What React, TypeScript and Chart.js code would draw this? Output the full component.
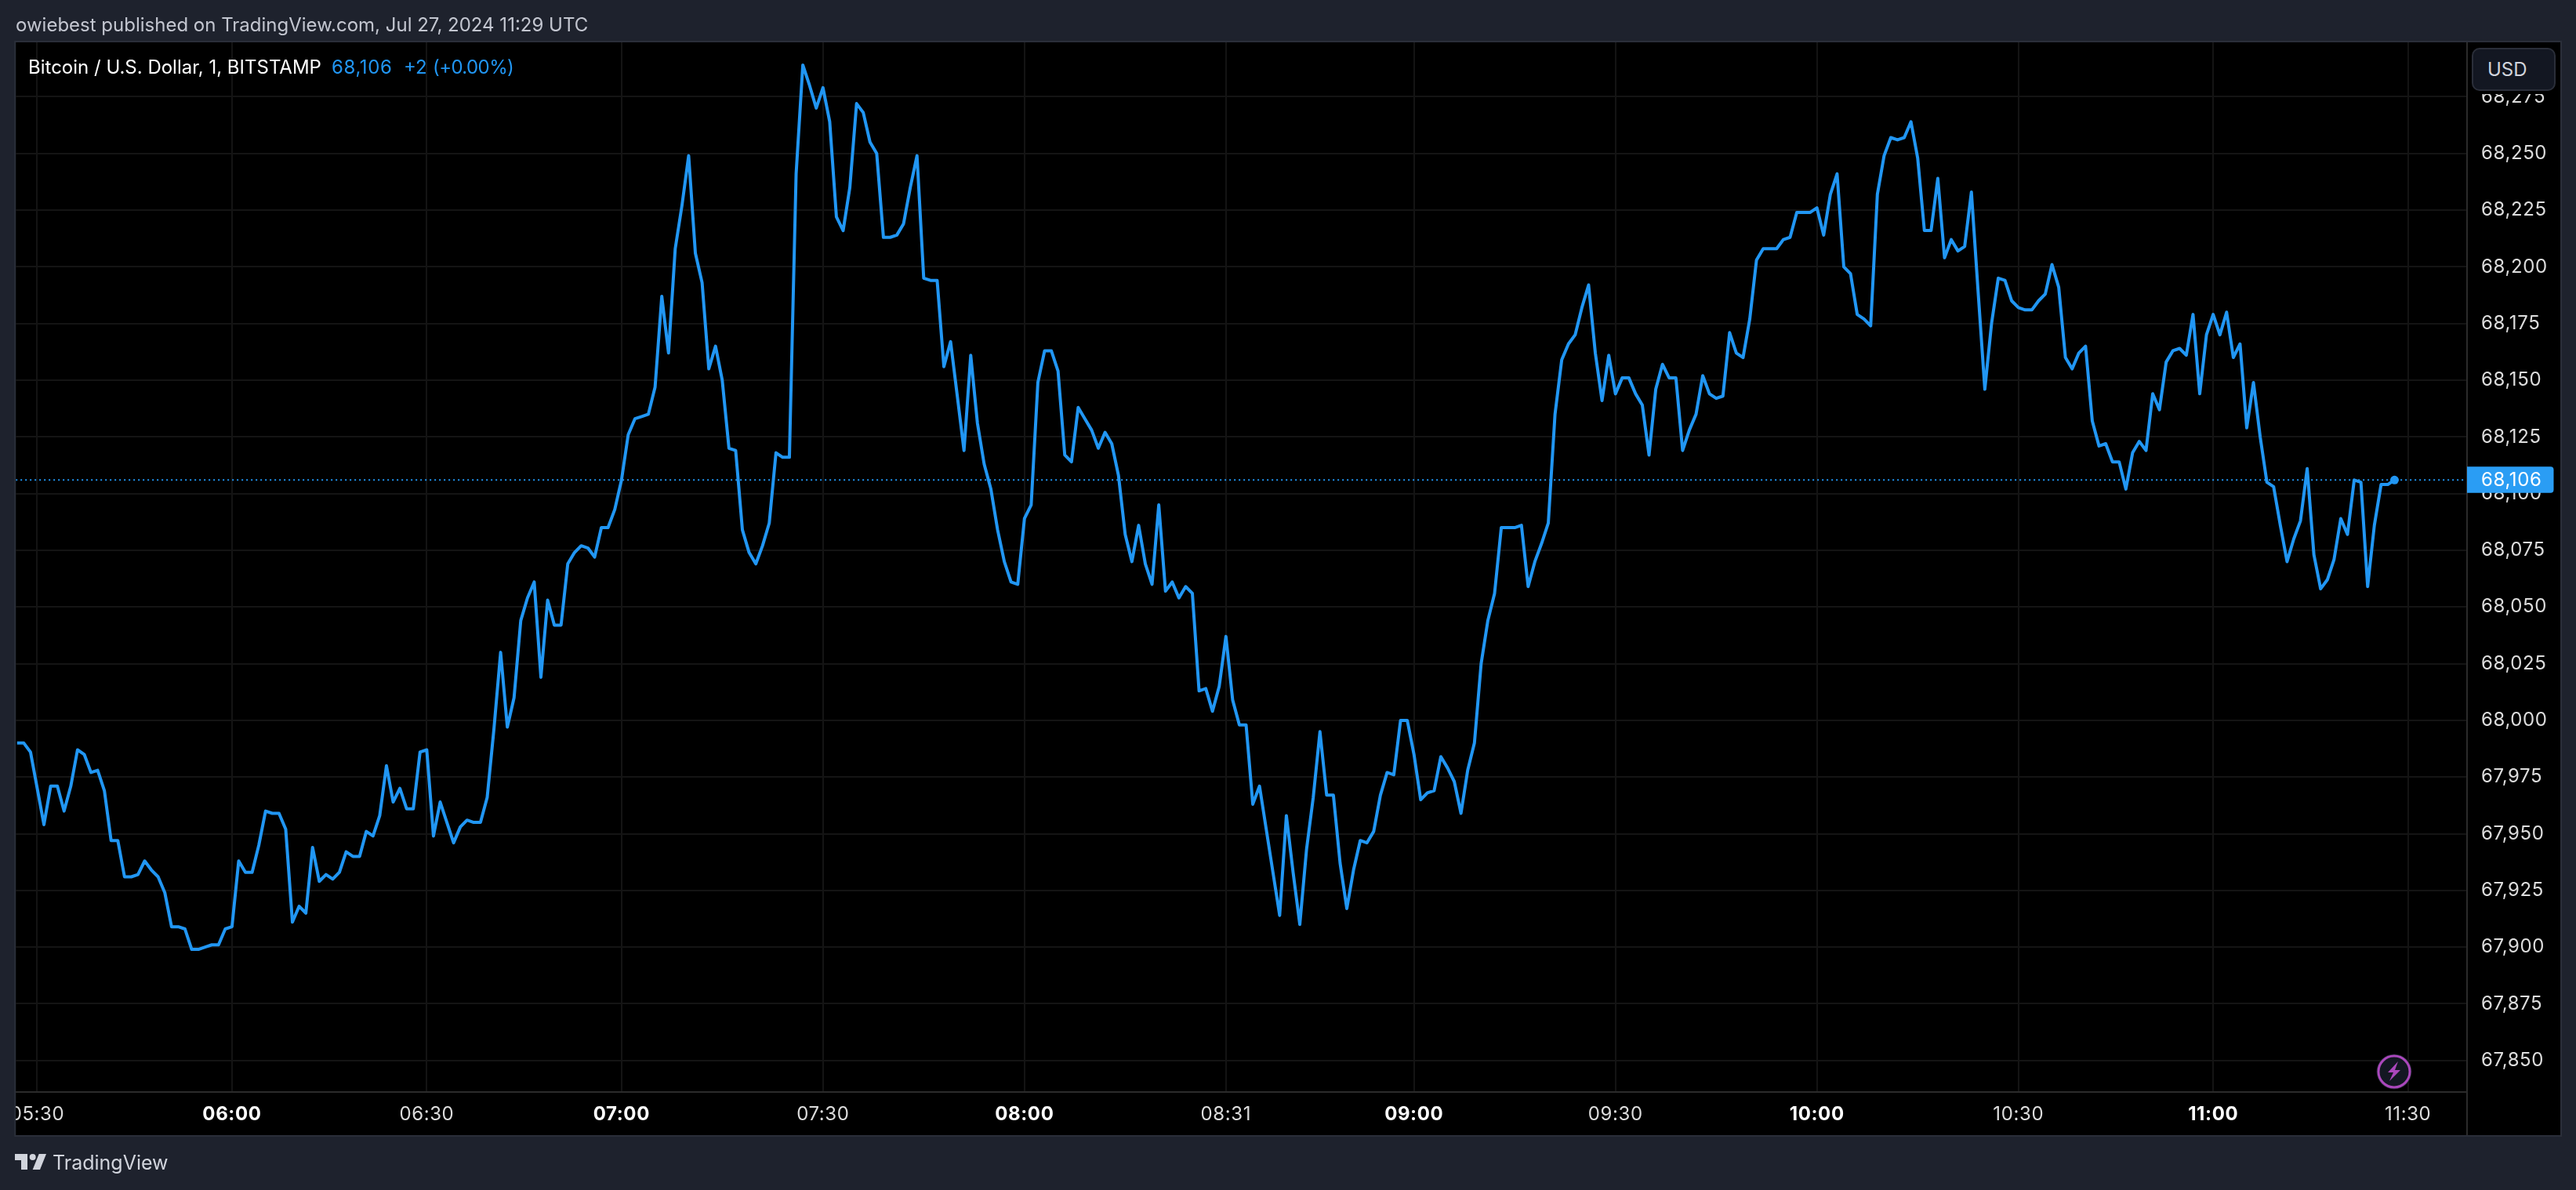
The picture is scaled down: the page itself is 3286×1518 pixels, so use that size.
import React, { useEffect, useRef } from "react";
import { Chart, registerables } from "chart.js";

Chart.register(...registerables);

// Price per 1-minute bar
const closeA = [67990,67990,67986,67970,67954,67971,67971,67960,67971,67987,67985,67977,67978,67969,67947,67947,67931,67931,67932,67938,67934,67931,67924,67909,67909,67908,67899,67899,67900,67901,67901,67908,67909,67938,67933,67933,67945,67960,67959,67959,67952,67911,67918,67915,67944,67929,67932,67930,67933,67942,67940,67940,67951,67949,67958,67980,67964,67970,67961,67961,67986,67987,67949,67964,67955,67946,67953,67956,67955,67955,67966];
const closeB = [67996,68030,67997,68010,68044,68054,68061,68019,68053,68042,68042,68069,68074,68077,68076,68072,68085,68085,68093,68106,68126,68133,68134,68135,68147,68187,68162,68208,68227,68249,68206,68193,68155,68165,68150,68120,68119,68084,68074,68069,68077,68087,68118,68116,68116,68241,68289,68280,68270,68279,68264,68222,68216,68235,68272,68268,68255,68250,68213,68213,68214,68219,68235,68249,68195,68194,68194,68156,68167,68143,68119,68161,68131,68113,68102,68084,68070,68061,68060,68089,68095,68149,68163,68163,68154,68117,68114,68138,68133,68128,68120];
const closeC = [68127,68122,68108,68082,68070,68086,68069,68060,68095,68057,68061,68054,68059,68056,68013,68014,68004,68015,68037,68009,67998,67998,67963,67971,67952,67933,67914,67958,67933,67910,67943,67966,67995,67967,67967,67937,67917,67934,67947,67946,67951,67967,67977,67976,68000,68000,67985,67965,67968,67969,67984,67979,67973,67959,67978,67990,68025,68044,68056,68085,68085,68085,68086,68059,68070,68078,68087];
const closeD = [68135,68159,68166,68170,68182,68192,68162,68141,68161,68144,68151,68151,68144,68139,68117,68146,68157,68151,68151,68119,68128,68135,68152,68144,68142,68143,68171,68162,68160,68177,68203,68208,68208,68208,68212,68213,68224,68224,68224,68226,68214,68232,68241,68200,68197,68179,68177,68174,68232,68249,68257,68256,68257,68264,68248,68216,68216,68239,68204,68212,68207,68209,68233,68189,68146,68175,68195,68194];
const closeE = [68185,68182,68181,68181,68185,68188,68201,68191,68160,68155,68162,68165,68132,68121,68122,68114,68114,68102,68118,68123,68119,68144,68137,68158,68163,68164,68161,68179,68144,68170,68179,68170,68180,68160,68166,68129,68149,68125,68105,68103,68086,68070,68080,68088,68111,68073,68058,68062,68071,68089,68082,68106,68105,68059,68086,68104,68104,68106];
const closes = [...closeA, ...closeB, ...closeC, ...closeD, ...closeE];

const timeTickBars = [3, 32, 61, 90, 120, 150, 180, 208, 238, 268, 298, 327, 356];
const timeTickLabels = ["05:30", "06:00", "06:30", "07:00", "07:30", "08:00", "08:31", "09:00", "09:30", "10:00", "10:30", "11:00", "11:30"];
const priceTicks = [67850, 67875, 67900, 67925, 67950, 67975, 68000, 68025, 68050, 68075, 68100, 68125, 68150, 68175, 68200, 68225, 68250, 68275];
const lastPrice = 68106;
const xRange = [-0.19, 364.8];
const yRange = [67836.1, 68299];

const FONT = "Inter, 'Noto Sans', sans-serif";
const BLUE = "#2196f3";
const OUTER = "#1e222d";
const FRAME = "#2a2e39";
const GRID = "#141414";

const isHour = (c: any) => {
  const i = c && c.tick ? timeTickBars.indexOf(c.tick.value) : -1;
  return i >= 0 && timeTickLabels[i].endsWith(":00");
};

const frame = {
  id: "frame",
  beforeDraw(chart: any) {
    const { ctx, chartArea: a, scales } = chart;
    const y2 = scales.x.bottom;
    const x2 = scales.y.right;
    ctx.save();
    ctx.fillStyle = OUTER;
    ctx.fillRect(0, 0, chart.width, chart.height);
    ctx.fillStyle = "#000";
    ctx.fillRect(a.left, a.top, x2 - a.left, y2 - a.top);
    ctx.restore();
    (ctx as any).letterSpacing = "0.6px";
  },
  afterDraw(chart: any) {
    const { ctx, chartArea: a, scales } = chart;
    const y2 = scales.x.bottom;
    const x2 = scales.y.right;
    ctx.save();
    (ctx as any).letterSpacing = "0.6px";
    ctx.fillStyle = OUTER;
    ctx.fillRect(0, a.bottom + 1, a.left - 1, y2 - a.bottom);
    ctx.fillStyle = "#000";
    ctx.fillRect(a.right + 1, a.top, x2 - a.right - 1, 66);
    ctx.strokeStyle = FRAME;
    ctx.lineWidth = 2;
    ctx.strokeRect(a.left - 1, a.top - 1, x2 - a.left + 2, y2 - a.top + 2);
    ctx.strokeStyle = "#2b2b2b";
    ctx.beginPath();
    ctx.moveTo(a.right, a.top);
    ctx.lineTo(a.right, y2);
    ctx.stroke();
    const py = scales.y.getPixelForValue(lastPrice);
    ctx.fillStyle = "#2a9df4";
    ctx.beginPath();
    ctx.roundRect(a.right, py - 17, 110.5, 33.5, [0, 4, 4, 0]);
    ctx.fill();
    ctx.fillStyle = "#fff";
    ctx.font = `24px ${FONT}`;
    ctx.textBaseline = "middle";
    ctx.textAlign = "left";
    ctx.fillText(lastPrice.toLocaleString("en-US"), a.right + 18, py + 0.5);
    ctx.restore();
  },
};

const abs = (s: React.CSSProperties): React.CSSProperties => ({
  position: "absolute",
  whiteSpace: "nowrap",
  fontFamily: FONT,
  lineHeight: "32px",
  ...s,
});

export default function App() {
  const ref = useRef<HTMLCanvasElement | null>(null);
  useEffect(() => {
    document.body.style.margin = "0";
    document.body.style.background = OUTER;
    const chart = new Chart(ref.current!, {
      type: "line",
      data: {
        datasets: [
          {
            data: closes.map((y, x) => ({ x, y })),
            borderColor: BLUE,
            backgroundColor: BLUE,
            borderWidth: 4,
            borderJoinStyle: "round",
            tension: 0,
            pointBorderWidth: 0,
            pointHoverRadius: 0,
            pointRadius: (c: any) => (c.dataIndex === closes.length - 1 ? 5.5 : 0),
            order: 1,
          },
          {
            data: xRange.map((x) => ({ x, y: lastPrice })),
            borderColor: BLUE,
            borderWidth: 2,
            borderDash: [2, 4],
            pointRadius: 0,
            order: 2,
          },
        ],
      },
      options: {
        responsive: false,
        animation: false,
        devicePixelRatio: 1,
        layout: { padding: { left: 20, top: 54, right: 20, bottom: 70 } },
        plugins: { legend: { display: false }, tooltip: { enabled: false } },
        events: [],
        scales: {
          x: {
            type: "linear",
            min: xRange[0],
            max: xRange[1],
            afterBuildTicks: (s: any) => {
              s.ticks = timeTickBars.map((value) => ({ value }));
            },
            afterFit: (s: any) => {
              s.height = 55;
            },
            grid: { color: GRID, lineWidth: 2, drawTicks: false },
            border: { color: "#2b2b2b", width: 2 },
            ticks: {
              autoSkip: false,
              maxRotation: 0,
              padding: 14,
              color: (c: any) => (isHour(c) ? "#ffffff" : "#dcdcdc"),
              font: (c: any) => ({
                family: FONT,
                size: 24,
                weight: isHour(c) ? "bold" : "normal",
              }),
              callback: (v: any) => timeTickLabels[timeTickBars.indexOf(v)],
            },
          },
          y: {
            type: "linear",
            position: "right",
            min: yRange[0],
            max: yRange[1],
            afterBuildTicks: (s: any) => {
              s.ticks = priceTicks.map((value) => ({ value }));
            },
            afterFit: (s: any) => {
              s.width = 119;
            },
            grid: { color: GRID, lineWidth: 2, drawTicks: false },
            border: { color: "#2b2b2b", width: 2 },
            ticks: {
              autoSkip: false,
              padding: 18,
              color: "#dcdcdc",
              font: { family: FONT, size: 24 },
              callback: (v: any) => Number(v).toLocaleString("en-US"),
            },
          },
        },
      },
      plugins: [frame],
    } as any);
    return () => chart.destroy();
  }, []);

  return (
    <div style={{ position: "fixed", left: 0, top: 0, width: 3286, height: 1518, overflow: "hidden", background: OUTER }}>
      <canvas ref={ref} width={3286} height={1518} style={{ display: "block", width: 3286, height: 1518 }} />
      <span style={abs({ left: 20, top: 16, fontSize: 24, color: "#c3c6d0" })}>owiebest published on TradingView.com, Jul 27, 2024 11:29 UTC</span>
      <span style={abs({ left: 36, top: 70, fontSize: 24, color: "#fff" })}>Bitcoin / U.S. Dollar, 1, BITSTAMP</span>
      <span style={abs({ left: 423, top: 70, fontSize: 24, color: BLUE, letterSpacing: 0.6 })}>68,106</span>
      <span style={abs({ left: 515, top: 70, fontSize: 24, color: BLUE })}>+2</span>
      <span style={abs({ left: 552, top: 70, fontSize: 24, color: BLUE, letterSpacing: -0.6 })}>(+0.00%)</span>
      <div style={abs({ left: 3153, top: 61, width: 103, height: 51, background: "#131722", border: `2px solid ${FRAME}`, borderRadius: 10, boxSizing: "content-box" })}>
        <span style={abs({ left: 18, top: 10, fontSize: 24, color: "#d1d4dc" })}>USD</span>
      </div>
      <svg viewBox="2 6 30 15" style={{ position: "absolute", left: 19, top: 1472, width: 40, height: 20 }}>
        <path fill="#d1d4dc" d="M14 6H2v6h6v9h6V6Zm12 15h-7l6-15h7l-6 15Zm-7-9a3 3 0 1 0 0-6 3 3 0 0 0 0 6Z" />
      </svg>
      <span style={abs({ left: 67, top: 1467, fontSize: 25, color: "#d1d4dc" })}>TradingView</span>
      <svg viewBox="0 0 48 48" style={{ position: "absolute", left: 3030, top: 1343, width: 48, height: 48 }}>
        <circle cx="24" cy="24" r="22.5" fill="#1e222d" />
        <circle cx="24" cy="24" r="20" fill="#131722" stroke="#ab47bc" strokeWidth="3" />
        <path fill="#ab47bc" d="M29 11 16 25h7l-5 11 14-14h-7l4-11Z" />
      </svg>
    </div>
  );
}
